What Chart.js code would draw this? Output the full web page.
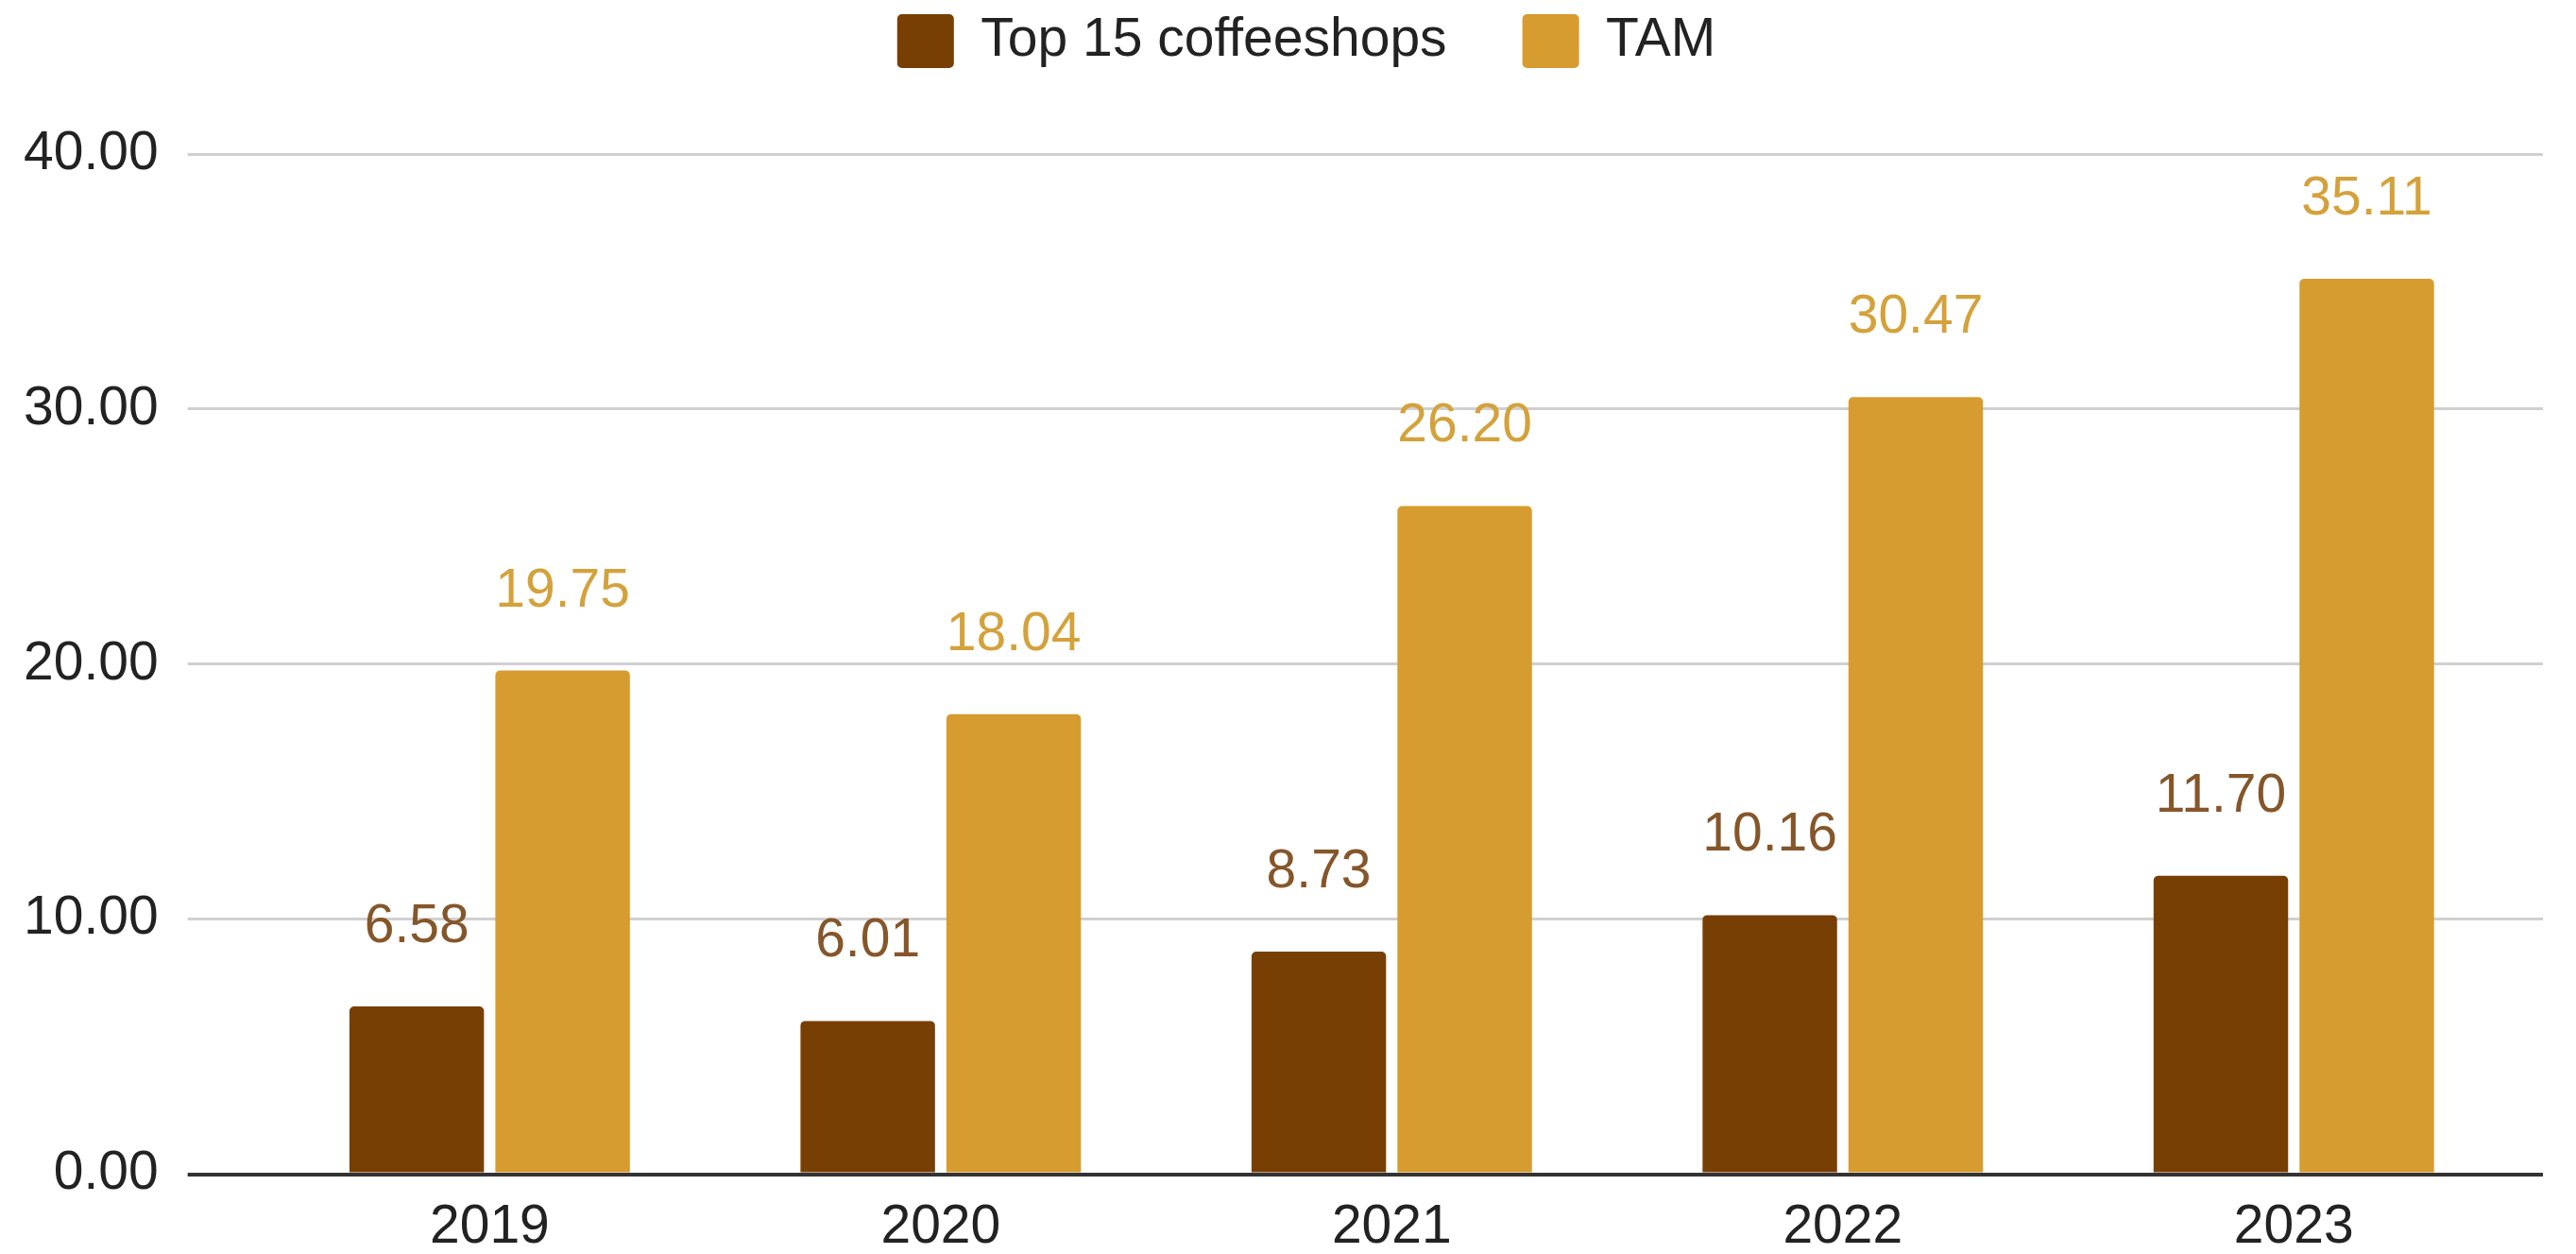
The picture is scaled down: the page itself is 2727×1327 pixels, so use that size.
<!DOCTYPE html>
<html>
<head>
<meta charset="utf-8">
<script src="https://cdn.jsdelivr.net/npm/chart.js@4.4.1/dist/chart.umd.min.js"></script>
<style>
  html, body { margin: 0; padding: 0; background: #fff; }
  #wrap { width: 2727px; height: 1327px; }
</style>
</head>
<body>
<div id="wrap"><canvas id="myChart"></canvas></div>
<script>
var years = ["2019", "2020", "2021", "2022", "2023"];
var top15 = [6.58, 6.01, 8.73, 10.16, 11.70];
var tam = [19.75, 18.04, 26.20, 30.47, 35.11];
var yTicks = [0, 10, 20, 30, 40];

var brown = "#783f04";
var gold = "#d69c2f";
var labelColors = ["#85562a", "#d4a23c"];
var fontFamily = "'Liberation Sans', Arial, Helvetica, sans-serif";

// value labels above each bar
var barLabels = {
    id: "barLabels",
    afterDatasetsDraw: function (chart) {
        var c = chart.ctx;
        c.save();
        c.font = "57px " + fontFamily;
        c.textAlign = "center";
        c.textBaseline = "alphabetic";
        chart.data.datasets.forEach(function (ds, i) {
            var meta = chart.getDatasetMeta(i);
            c.fillStyle = labelColors[i];
            meta.data.forEach(function (bar, j) {
                c.fillText(ds.data[j].toFixed(2), bar.x, bar.y - 68);
            });
        });
        c.restore();
    }
};

// legend sits a bit right of the canvas centre in the original
var legendNudge = {
    id: "legendNudge",
    afterLayout: function (chart) {
        if (chart.legend) {
            chart.legend.left += 40;
            chart.legend.right += 40;
        }
    }
};

function gridColor(ctx) {
    return ctx.tick && ctx.tick.value === 0 ? "#333333" : "#d0d0d0";
}
function gridWidth(ctx) {
    return ctx.tick && ctx.tick.value === 0 ? 4 : 3;
}

var ctx = document.getElementById("myChart");
var myChart = new Chart(ctx, {
    type: 'bar',
    data: {
        labels: years,
        datasets: [{
            label: "Top 15 coffeeshops",
            backgroundColor: brown,
            data: top15,
            borderRadius: 5,
            categoryPercentage: 0.647,
            barPercentage: 0.922
        }, {
            label: "TAM",
            backgroundColor: gold,
            data: tam,
            borderRadius: 5,
            categoryPercentage: 0.647,
            barPercentage: 0.922
        }]
    },
    options: {
        responsive: true,
        maintainAspectRatio: false,
        animation: false,
        layout: { padding: { top: -65, left: -6, right: 35, bottom: -28 } },
        plugins: {
            legend: {
                display: true,
                position: 'top',
                labels: {
                    boxWidth: 60,
                    boxHeight: 57,
                    padding: 80,
                    useBorderRadius: true,
                    borderRadius: 5,
                    color: "#222",
                    font: { size: 57, family: fontFamily }
                }
            },
            // spacer between legend and plot
            title: {
                display: true,
                text: ' ',
                weight: 500,
                font: { size: 1, lineHeight: 1 },
                padding: { top: 0, bottom: 80 }
            },
            tooltip: { enabled: false }
        },
        scales: {
            x: {
                grid: { display: false, drawTicks: false },
                border: { display: false },
                ticks: {
                    padding: 22,
                    color: "#222",
                    font: { size: 57, family: fontFamily }
                }
            },
            y: {
                min: 0,
                max: 40,
                afterBuildTicks: function (axis) {
                    axis.ticks = yTicks.map(function (v) { return { value: v }; });
                },
                border: { display: false },
                grid: {
                    color: gridColor,
                    lineWidth: gridWidth,
                    drawTicks: true,
                    tickLength: 81
                },
                ticks: {
                    padding: 31,
                    color: "#222",
                    font: { size: 57, family: fontFamily },
                    callback: function (v) { return Number(v).toFixed(2); }
                }
            },
            y2: {
                type: 'linear',
                position: 'right',
                min: 0,
                max: 40,
                afterBuildTicks: function (axis) {
                    axis.ticks = yTicks.map(function (v) { return { value: v }; });
                },
                border: { display: false },
                grid: {
                    color: gridColor,
                    lineWidth: gridWidth,
                    drawOnChartArea: false,
                    drawTicks: true,
                    tickLength: 25
                },
                ticks: { display: false, padding: 0 }
            }
        }
    },
    plugins: [barLabels, legendNudge]
});
</script>
</body>
</html>
